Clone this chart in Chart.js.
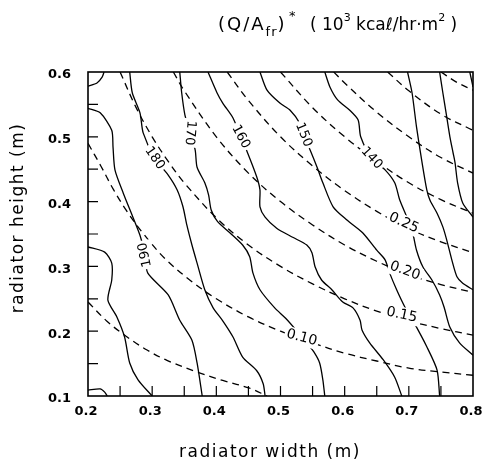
<!DOCTYPE html>
<html>
<head>
<meta charset="UTF-8">
<title>Radiator heat flux contours</title>
<style>
  body { margin: 0; background: #fff; }
  #wrap { width: 495px; height: 465px; }
</style>
</head>
<body>
<div id="wrap"><canvas id="chart" width="495" height="465"></canvas></div>
<script src="https://cdn.jsdelivr.net/npm/chart.js"></script>
<script>
// tick marks (labels come from the scale, every 0.1)
const xTickMarks = [0.25, 0.3, 0.35, 0.4, 0.45, 0.5, 0.55, 0.6, 0.65, 0.7, 0.75];
const yTickMarks = [0.15, 0.2, 0.25, 0.3, 0.35, 0.4, 0.45, 0.5, 0.55];

// solid contours: (Q/A_fr)*, width (m) / height (m)
const cornerTopLeftW = [0.2, 0.214, 0.222, 0.225];
const cornerTopLeftH = [0.578, 0.583, 0.592, 0.6];
const cornerBottomLeftW = [0.2, 0.219, 0.226, 0.230];
const cornerBottomLeftH = [0.109, 0.111, 0.106, 0.1];
const cornerTopRightW = [0.795, 0.8];
const cornerTopRightH = [0.6, 0.577];
const flux200W = [0.2, 0.226, 0.237, 0.237, 0.231, 0.245, 0.257, 0.265, 0.278, 0.3];
const flux200H = [0.330, 0.322, 0.305, 0.279, 0.248, 0.222, 0.191, 0.151, 0.125, 0.1];
const flux190W = [0.2, 0.219, 0.237, 0.239, 0.242, 0.255, 0.270, 0.281, 0.289, 0.293, 0.325, 0.343, 0.362, 0.370, 0.378];
const flux190H = [0.544, 0.537, 0.510, 0.484, 0.449, 0.413, 0.376, 0.348, 0.318, 0.290, 0.256, 0.217, 0.186, 0.151, 0.1];
const flux180W = [0.265, 0.269, 0.281, 0.286, 0.304, 0.325, 0.339, 0.348, 0.354, 0.362, 0.370, 0.382, 0.395, 0.410, 0.426, 0.441, 0.463, 0.473, 0.476];
const flux180H = [0.6, 0.568, 0.537, 0.506, 0.467, 0.441, 0.418, 0.392, 0.364, 0.333, 0.305, 0.264, 0.236, 0.216, 0.191, 0.160, 0.139, 0.119, 0.1];
const flux170W = [0.343, 0.346, 0.351, 0.359, 0.367, 0.370, 0.382, 0.388, 0.392, 0.402, 0.421, 0.441, 0.452, 0.457, 0.468, 0.491, 0.508, 0.524, 0.543, 0.552, 0.561, 0.566, 0.569];
const flux170H = [0.6, 0.568, 0.534, 0.506, 0.480, 0.453, 0.429, 0.410, 0.387, 0.369, 0.352, 0.333, 0.315, 0.290, 0.264, 0.236, 0.220, 0.202, 0.179, 0.168, 0.151, 0.125, 0.1];
const flux160W = [0.387, 0.401, 0.410, 0.426, 0.438, 0.448, 0.463, 0.468, 0.468, 0.476, 0.494, 0.519, 0.541, 0.549, 0.554, 0.564, 0.580, 0.597, 0.613, 0.624, 0.627, 0.639, 0.660, 0.678, 0.689];
const flux160H = [0.6, 0.568, 0.552, 0.529, 0.500, 0.477, 0.438, 0.418, 0.392, 0.376, 0.359, 0.345, 0.333, 0.321, 0.299, 0.279, 0.264, 0.245, 0.236, 0.217, 0.202, 0.182, 0.156, 0.129, 0.1];
const flux150W = [0.468, 0.479, 0.499, 0.515, 0.530, 0.536, 0.546, 0.557, 0.566, 0.582, 0.603, 0.628, 0.650, 0.663, 0.670, 0.681, 0.694, 0.706, 0.728, 0.744, 0.748];
const flux150H = [0.6, 0.572, 0.552, 0.541, 0.521, 0.503, 0.480, 0.453, 0.429, 0.392, 0.372, 0.352, 0.325, 0.310, 0.290, 0.264, 0.237, 0.217, 0.176, 0.140, 0.1];
const flux140W = [0.569, 0.577, 0.589, 0.608, 0.621, 0.625, 0.642, 0.663, 0.678, 0.686, 0.697, 0.706, 0.712, 0.722, 0.736, 0.748, 0.755, 0.764, 0.779, 0.8];
const flux140H = [0.6, 0.577, 0.557, 0.541, 0.526, 0.500, 0.467, 0.449, 0.429, 0.402, 0.376, 0.352, 0.325, 0.299, 0.279, 0.256, 0.237, 0.206, 0.182, 0.163];
const flux130W = [0.698, 0.705, 0.712, 0.720, 0.728, 0.733, 0.744, 0.753, 0.759, 0.767, 0.775, 0.784, 0.8];
const flux130H = [0.6, 0.568, 0.515, 0.464, 0.418, 0.402, 0.382, 0.361, 0.341, 0.310, 0.284, 0.274, 0.264];
const flux120W = [0.748, 0.753, 0.759, 0.764, 0.769, 0.772, 0.776, 0.784, 0.8];
const flux120H = [0.6, 0.568, 0.531, 0.500, 0.475, 0.460, 0.429, 0.398, 0.376];

// dashed lines: frontal area (m^2)
const area005W = [0.2, 0.23, 0.261, 0.292, 0.323, 0.37, 0.41, 0.452, 0.479];
const area005H = [0.245, 0.215, 0.191, 0.171, 0.155, 0.137, 0.124, 0.112, 0.1];
const area010W = [0.2, 0.22, 0.24, 0.26, 0.285, 0.32, 0.36, 0.4, 0.45, 0.5, 0.55, 0.6, 0.65, 0.7, 0.75, 0.8];
const area010H = [0.49, 0.455, 0.418, 0.386, 0.352, 0.312, 0.278, 0.25, 0.222, 0.2, 0.182, 0.166, 0.154, 0.143, 0.137, 0.132];
const area015W = [0.25, 0.275, 0.3, 0.325, 0.35, 0.4, 0.45, 0.5, 0.55, 0.6, 0.65, 0.7, 0.75, 0.8];
const area015H = [0.6, 0.545, 0.5, 0.462, 0.429, 0.375, 0.333, 0.3, 0.273, 0.25, 0.231, 0.216, 0.204, 0.194];
const area020W = [0.333, 0.35, 0.4, 0.45, 0.5, 0.55, 0.6, 0.65, 0.7, 0.75, 0.8];
const area020H = [0.6, 0.571, 0.5, 0.444, 0.4, 0.364, 0.333, 0.308, 0.287, 0.272, 0.26];
const area025W = [0.417, 0.45, 0.5, 0.55, 0.6, 0.65, 0.7, 0.75, 0.8];
const area025H = [0.6, 0.556, 0.5, 0.455, 0.417, 0.385, 0.358, 0.338, 0.321];
const area030W = [0.5, 0.55, 0.6, 0.65, 0.7, 0.75, 0.8];
const area030H = [0.6, 0.545, 0.5, 0.462, 0.429, 0.403, 0.382];
const area035W = [0.583, 0.6, 0.65, 0.7, 0.75, 0.8];
const area035H = [0.6, 0.583, 0.538, 0.5, 0.468, 0.444];
const area040W = [0.667, 0.7, 0.75, 0.8];
const area040H = [0.6, 0.571, 0.535, 0.51];
const area045W = [0.75, 0.775, 0.8];
const area045H = [0.6, 0.584, 0.572];

// in-line contour labels: text, width, height, angle (deg)
const lineLabels = [
  ['190', 0.289, 0.318, -102],
  ['180', 0.304, 0.467, 55],
  ['170', 0.359, 0.506, 95],
  ['160', 0.438, 0.500, 62],
  ['150', 0.536, 0.503, 68],
  ['140', 0.642, 0.467, 48],
  ['0.25', 0.692, 0.367, 25],
  ['0.20', 0.694, 0.293, 20],
  ['0.15', 0.689, 0.225, 12],
  ['0.10', 0.533, 0.190, 15]
];

const solid = [
  [cornerTopLeftW, cornerTopLeftH], [cornerBottomLeftW, cornerBottomLeftH], [cornerTopRightW, cornerTopRightH],
  [flux200W, flux200H], [flux190W, flux190H], [flux180W, flux180H], [flux170W, flux170H],
  [flux160W, flux160H], [flux150W, flux150H], [flux140W, flux140H], [flux130W, flux130H], [flux120W, flux120H]
];
const dashed = [
  [area005W, area005H], [area010W, area010H], [area015W, area015H], [area020W, area020H], [area025W, area025H],
  [area030W, area030H], [area035W, area035H], [area040W, area040H], [area045W, area045H]
];

function pts(w, h) {
  return w.map((x, i) => ({ x: x, y: h[i] }));
}

const datasets = [];
solid.forEach(([w, h]) => datasets.push({
  data: pts(w, h), showLine: true, borderColor: '#000', borderWidth: 1.3,
  pointRadius: 0, tension: 0.25, fill: false
}));
dashed.forEach(([w, h]) => datasets.push({
  data: pts(w, h), showLine: true, borderColor: '#000', borderWidth: 1.3,
  borderDash: [7, 5], pointRadius: 0, tension: 0.35, fill: false
}));

const FONT = "'DejaVu Sans', sans-serif";

// labels sitting on the lines, with a white gap behind them
const labelPlugin = {
  id: 'lineLabels',
  afterDatasetsDraw(chart) {
    const { ctx, scales: { x, y } } = chart;
    ctx.save();
    lineLabels.forEach(([text, w, h, ang]) => {
      ctx.save();
      ctx.translate(x.getPixelForValue(w), y.getPixelForValue(h));
      ctx.rotate(ang * Math.PI / 180);
      ctx.font = (text.length > 3 ? '14px ' : '13px ') + FONT;
      const tw = ctx.measureText(text).width;
      ctx.fillStyle = '#fff';
      ctx.fillRect(-tw / 2 - 2, -8, tw + 4, 16);
      ctx.fillStyle = '#000';
      ctx.textAlign = 'center';
      ctx.textBaseline = 'middle';
      ctx.fillText(text, 0, 0);
      ctx.restore();
    });
    ctx.restore();
  }
};

// frame, inward ticks and titles
const framePlugin = {
  id: 'frame',
  afterDraw(chart) {
    const { ctx, chartArea: a, scales: { x, y } } = chart;
    ctx.save();
    ctx.strokeStyle = '#000';
    ctx.lineWidth = 1.6;
    ctx.strokeRect(a.left, a.top, a.right - a.left, a.bottom - a.top);
    ctx.lineWidth = 1.2;
    ctx.beginPath();
    xTickMarks.forEach(v => {
      const px = x.getPixelForValue(v);
      ctx.moveTo(px, a.bottom);
      ctx.lineTo(px, a.bottom - 10);
    });
    yTickMarks.forEach(v => {
      const py = y.getPixelForValue(v);
      ctx.moveTo(a.left, py);
      ctx.lineTo(a.left + 10, py);
    });
    ctx.stroke();

    ctx.fillStyle = '#000';
    ctx.textBaseline = 'middle';
    ctx.textAlign = 'center';
    ctx.font = '17px ' + FONT;
    ctx.letterSpacing = '1.5px';
    ctx.fillText('radiator width (m)', 270, 453);
    ctx.save();
    ctx.translate(19, 218);
    ctx.rotate(-Math.PI / 2);
    ctx.fillText('radiator height (m)', 0, 0);
    ctx.restore();

    // (Q/A_fr)*  ( 10^3 kcal/hr.m^2 )
    ctx.textAlign = 'left';
    ctx.textBaseline = 'alphabetic';
    const parts = [
      ['(Q/A', 18, 0, 218, 2], ['fr', 13, 6, undefined, 1], [')', 18, 0, undefined, 1], ['*', 13, -10, 289, 0],
      ['( 10', 17, 0, 310, 0], ['3', 11, -9, undefined, 0], [' kcaℓ/hr·m', 17, 0, undefined, 0],
      ['2', 11, -9, undefined, 0], [' )', 17, 0, undefined, 0]
    ];
    let cx = 0;
    parts.forEach(([t, size, dy, start, sp]) => {
      if (start !== undefined) cx = start;
      ctx.font = size + 'px ' + FONT;
      ctx.letterSpacing = sp + 'px';
      ctx.fillText(t, cx, 30 + dy);
      cx += ctx.measureText(t).width;
    });
    ctx.restore();
  }
};

const tickFont = { family: FONT, size: 13, weight: 'bold' };

new Chart(document.getElementById('chart'), {
  type: 'scatter',
  data: { datasets: datasets },
  options: {
    responsive: false,
    animation: false,
    events: [],
    layout: { padding: { top: 72, right: 22, left: 0, bottom: 0 } },
    plugins: { legend: { display: false }, tooltip: { enabled: false } },
    scales: {
      x: {
        type: 'linear', min: 0.2, max: 0.8,
        grid: { display: false, drawTicks: false },
        border: { display: false },
        ticks: {
          stepSize: 0.1, autoSkip: false, maxRotation: 0, padding: 8, labelOffset: -2,
          color: '#000', font: tickFont,
          callback: v => v.toFixed(1)
        },
        afterFit(s) { s.height = 69; }
      },
      y: {
        type: 'linear', min: 0.1, max: 0.6,
        grid: { display: false, drawTicks: false },
        border: { display: false },
        ticks: {
          stepSize: 0.1, padding: 17, labelOffset: 3,
          color: '#000', font: tickFont,
          callback: v => v.toFixed(1)
        },
        afterFit(s) { s.width = 88; }
      }
    }
  },
  plugins: [labelPlugin, framePlugin]
});
</script>
</body>
</html>
